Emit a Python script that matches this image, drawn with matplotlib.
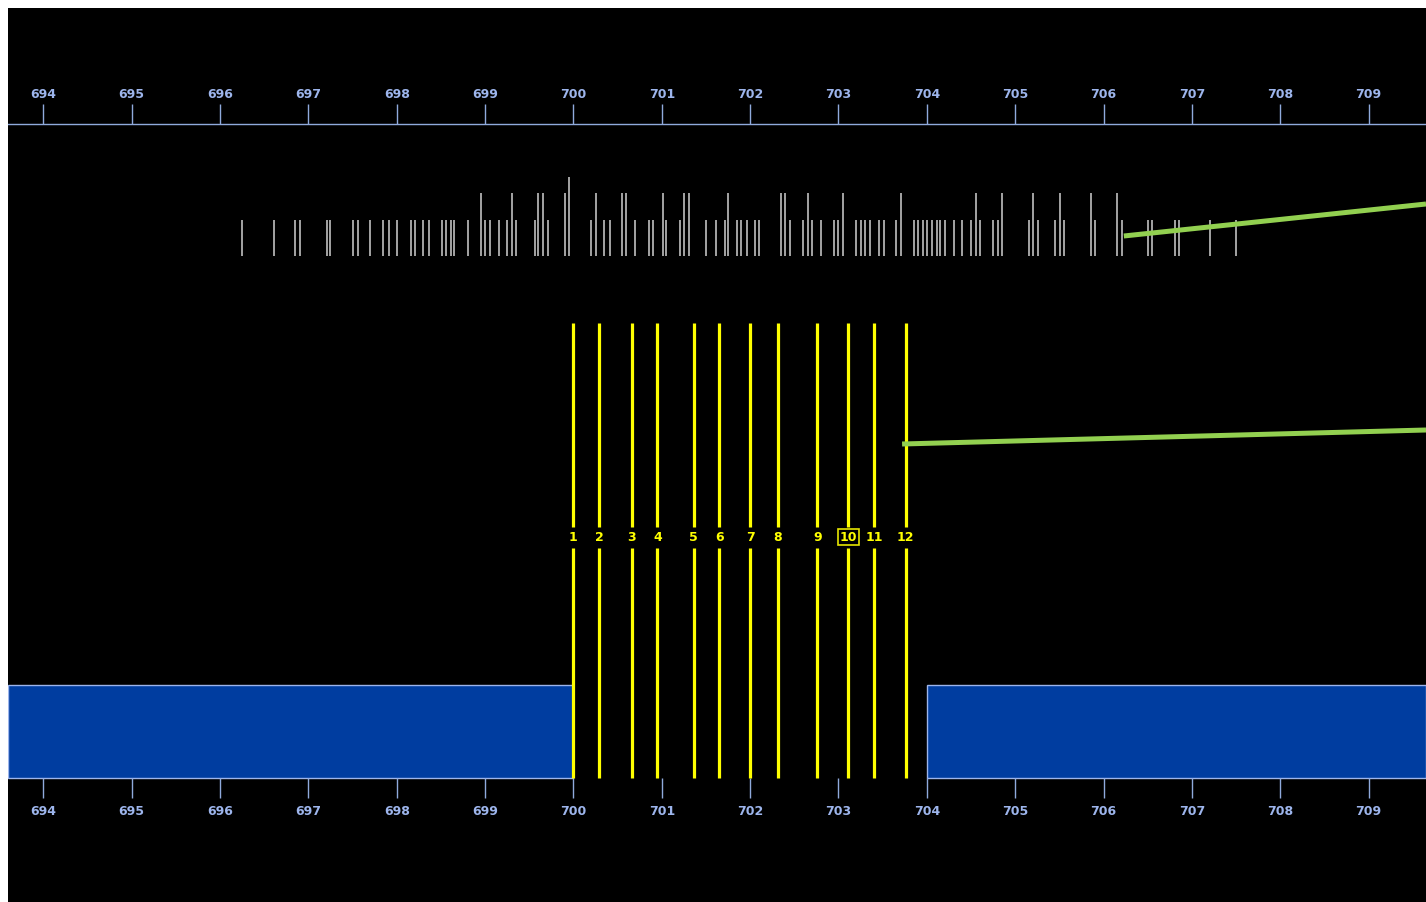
import matplotlib
matplotlib.use('Agg')
import matplotlib.pyplot as plt
import matplotlib.patches as patches

# eje horizontal (mismas etiquetas arriba y abajo)
ticks = list(range(694, 710))
x_min, x_max = 693.60, 709.65

# marcas blancas: posicion y nivel de altura (1 corta, 2 alta, 3 la mas alta)
marcas = [696.25, 696.61, 696.85, 696.90, 697.21, 697.25, 697.50, 697.56, 697.70, 697.85,
          697.91, 698.00, 698.16, 698.21, 698.30, 698.36, 698.51, 698.56, 698.61, 698.65,
          698.81, 698.95, 699.00, 699.05, 699.16, 699.25, 699.31, 699.35, 699.56, 699.60,
          699.66, 699.71, 699.91, 699.95, 700.20, 700.26, 700.35, 700.41, 700.55, 700.60,
          700.70, 700.85, 700.90, 701.01, 701.05, 701.21, 701.25, 701.31, 701.50, 701.61,
          701.71, 701.75, 701.85, 701.90, 701.96, 702.05, 702.10, 702.35, 702.40, 702.45,
          702.60, 702.66, 702.70, 702.80, 702.95, 703.00, 703.05, 703.20, 703.26, 703.30,
          703.36, 703.46, 703.51, 703.65, 703.71, 703.86, 703.90, 703.96, 704.00, 704.06,
          704.11, 704.15, 704.21, 704.31, 704.40, 704.50, 704.56, 704.60, 704.75, 704.80,
          704.85, 705.16, 705.20, 705.26, 705.45, 705.51, 705.55, 705.86, 705.90, 706.15,
          706.21, 706.50, 706.55, 706.81, 706.85, 707.21, 707.50]
niveles = [1, 1, 1, 1, 1, 1, 1, 1, 1, 1,
           1, 1, 1, 1, 1, 1, 1, 1, 1, 1,
           1, 2, 1, 1, 1, 1, 2, 1, 1, 2,
           2, 1, 2, 3, 1, 2, 1, 1, 2, 2,
           1, 1, 1, 2, 1, 1, 2, 2, 1, 1,
           1, 2, 1, 1, 1, 1, 1, 2, 2, 1,
           1, 2, 1, 1, 1, 1, 2, 1, 1, 1,
           1, 1, 1, 1, 2, 1, 1, 1, 1, 1,
           1, 1, 1, 1, 1, 1, 2, 1, 1, 1,
           2, 1, 2, 1, 1, 2, 1, 2, 1, 2,
           1, 1, 1, 1, 1, 1, 1]

# lineas amarillas numeradas
amarillas = [700.00, 700.29, 700.66, 700.95, 701.36, 701.65, 702.00, 702.31, 702.76,
             703.11, 703.40, 703.76]
etiquetas = [str(i) for i in range(1, 13)]
resaltada = '10'

# bloques azules (inicio, fin)
bloques = [(x_min, 700.0), (704.0, x_max)]

# lineas verdes
verde_1_x = [706.23, x_max]
verde_2_x = [703.72, x_max]

# filas (coordenada vertical en pixeles de la imagen)
Y_EJE_SUP, Y_EJE_INF = 124, 778
ALTURAS = {1: 220, 2: 193, 3: 177}
Y_BASE_MARCAS = 256

AZUL_CLARO = '#8FAADC'

fig = plt.figure(figsize=(14.26, 9.02), dpi=100, facecolor='white')
ax = fig.add_axes([8 / 1426, 0, 1418 / 1426, 894 / 902])
ax.set_facecolor('black')
ax.set_xlim(x_min, x_max)
ax.set_ylim(902, 8)
ax.set_xticks([])
ax.set_yticks([])
for s in ax.spines.values():
    s.set_visible(False)

fuente = ['Liberation Sans Narrow', 'DejaVu Sans']

# ejes superior e inferior
ax.axhline(Y_EJE_SUP, color=AZUL_CLARO, lw=1.0)
ax.vlines(ticks, 104, Y_EJE_SUP, color=AZUL_CLARO, lw=1.0)
ax.vlines(ticks, Y_EJE_INF, 798, color=AZUL_CLARO, lw=1.0)
for t in ticks:
    ax.text(t, 94, str(t), color='#9DB5EC', fontsize=9, fontweight='bold',
            family=fuente, ha='center', va='center')
    ax.text(t, 811, str(t), color='#9DB5EC', fontsize=9, fontweight='bold',
            family=fuente, ha='center', va='center')

# bloques azules
for a, b in bloques:
    ax.add_patch(patches.Rectangle((a, 685), b - a, Y_EJE_INF - 685,
                                   facecolor='#003DA0', edgecolor='#9DB5EC', lw=1.0))

# marcas blancas
ax.vlines(marcas, [ALTURAS[n] for n in niveles], Y_BASE_MARCAS, color='#d0d0d0', lw=1.1)

# lineas amarillas con numero
ax.vlines(amarillas, 323, 527, color='#FFFF00', lw=2.3)
ax.vlines(amarillas, 548, Y_EJE_INF, color='#FFFF00', lw=2.3)
for x, lab in zip(amarillas, etiquetas):
    caja = None
    if lab == resaltada:
        caja = dict(boxstyle='square,pad=0.15', facecolor='black', edgecolor='#E6E600', lw=1.2)
    ax.text(x, 537, lab, color='#FFFF00', fontsize=9, fontweight='bold', family=fuente,
            ha='center', va='center', bbox=caja)

# lineas verdes
ax.plot(verde_1_x, [236, 204], color='#92D050', lw=3.6, solid_capstyle='butt')
ax.plot(verde_2_x, [444, 430], color='#92D050', lw=3.6, solid_capstyle='butt')

fig.savefig('out.png', dpi=100, facecolor='white')
